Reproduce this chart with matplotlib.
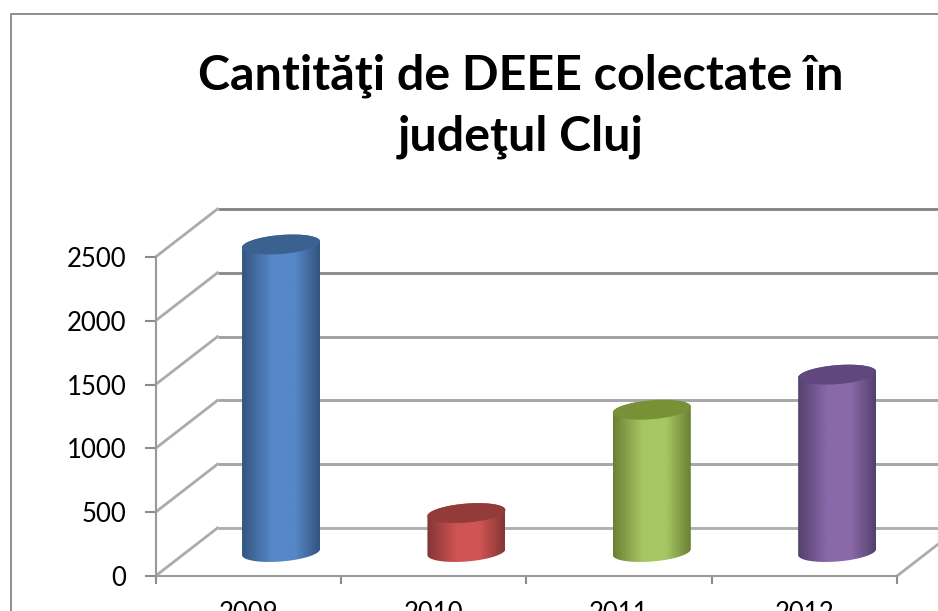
import numpy as np
import matplotlib
matplotlib.use("Agg")
import matplotlib.pyplot as plt
from matplotlib.colors import LinearSegmentedColormap
from matplotlib.lines import Line2D
from matplotlib.patches import Polygon

plt.rcParams['font.family'] = ['Lato', 'Noto Sans', 'DejaVu Sans']

title = "Cantităţi de DEEE colectate în\njudeţul Cluj"
years = ["2009", "2010", "2011", "2012"]
values = [2410, 305, 1115, 1390]
yticks = [0, 500, 1000, 1500, 2000, 2500]
mid_colors = ["#5687C8", "#CF5453", "#A6C763", "#8A69A9"]
edge_colors = ["#335580", "#823635", "#6A8033", "#54406E"]
top_colors = ["#3A6190", "#933B39", "#799136", "#60487F"]

W, H = 938, 611
fig = plt.figure(figsize=(W / 100, H / 100), dpi=100, facecolor="white")
L, R, B, T = 155.5, 897.0, 576.0, 257.0
ax = fig.add_axes([L / W, 1 - B / H, (R - L) / W, (B - T) / H])
ax.patch.set_alpha(0)

px_x = (R - L) / 4
px_y = (B - T) / 2500
dx = 62 / px_x        # depth offset, categories
dy = 48 / px_y        # depth offset, value units
half_w = 39 / px_x
ell_b = 9.5 / px_y
ell_tilt = 3 / px_y

# back wall gridlines and side-wall diagonals
grid_cols = ["#B0B0B0", "#A6A6A6", "#A6A6A6", "#A0A0A0", "#8C8C8C", "#868686"]
for v, c in zip(yticks, grid_cols):
    ax.plot([dx, 4 + dx], [v + dy, v + dy], color=c, lw=2.1, clip_on=False, zorder=1,
            solid_capstyle="butt")
    ax.plot([0, dx], [v, v + dy], color="#ABABAB", lw=2.0, clip_on=False, zorder=1)
ax.plot([4, 4 + dx], [0, dy], color="#ABABAB", lw=2.0, clip_on=False, zorder=1)

t = np.linspace(0, 2 * np.pi, 121)
for i, (val, mid, edge, top) in enumerate(zip(values, mid_colors, edge_colors, top_colors)):
    cx = i + 0.5 + dx * 0.53
    base = dy * 0.5
    ex = cx + half_w * np.cos(t)
    ey = ell_b * np.sin(t) + ell_tilt * np.cos(t)
    lower = t[(t >= np.pi) & (t <= 2 * np.pi)]
    upper = t[t <= np.pi]
    body_x = np.r_[cx + half_w * np.cos(lower),
                   cx + half_w * np.cos(upper)]
    body_y = np.r_[base + ell_b * np.sin(lower) + ell_tilt * np.cos(lower),
                   base + val + ell_b * np.sin(upper) + ell_tilt * np.cos(upper)]
    clip = Polygon(np.c_[body_x, body_y], closed=True, transform=ax.transData,
                   fc="none", ec="none", clip_on=False)
    ax.add_patch(clip)
    cmap = LinearSegmentedColormap.from_list(
        f"c{i}", [(0, edge), (0.38, mid), (0.68, mid), (1, edge)])
    im = ax.imshow(np.linspace(0, 1, 256)[None, :], cmap=cmap, aspect="auto",
                   extent=[cx - half_w, cx + half_w, base - 2 * ell_b, base + val + 2 * ell_b],
                   zorder=3, interpolation="bilinear")
    im.set_clip_box(fig.bbox)
    im.set_clip_path(clip)
    ax.fill(ex, base + val + ey, color=top, zorder=4, lw=0, clip_on=False)

ax.set_xlim(0, 4)
ax.set_ylim(0, 2500)
ax.set_yticks(yticks)
ax.set_xticks(range(5))
ax.set_xticklabels([])
ax.set_xticks(np.arange(4) + 0.5, minor=True)
ax.set_xticklabels(years, minor=True)
ax.tick_params(axis="y", direction="out", length=8, width=1.5, color="#8C8C8C",
               labelsize=18.5, pad=13, labelcolor="black")
ax.tick_params(axis="x", which="major", direction="out", length=5.5, width=1.5, color="#8C8C8C")
ax.tick_params(axis="x", which="minor", length=0, labelsize=18.5, pad=18, labelcolor="black")
for s in ("top", "right"):
    ax.spines[s].set_visible(False)
for s in ("left", "bottom"):
    ax.spines[s].set_color("#9A9A9A")
    ax.spines[s].set_linewidth(1.5)

# chart frame (its right and bottom edges lie outside the picture)
fig.add_artist(Line2D([10.5 / W, 10.5 / W, 1], [0, 1 - 13.5 / H, 1 - 13.5 / H],
                      color="#8E8E8E", lw=1.4, transform=fig.transFigure))

fig.text(521 / W, 1 - 106 / H, title, ha="center", va="center", fontsize=34.8,
         fontweight="bold", color="black", linespacing=1.45)

fig.savefig("out.png", dpi=100)
